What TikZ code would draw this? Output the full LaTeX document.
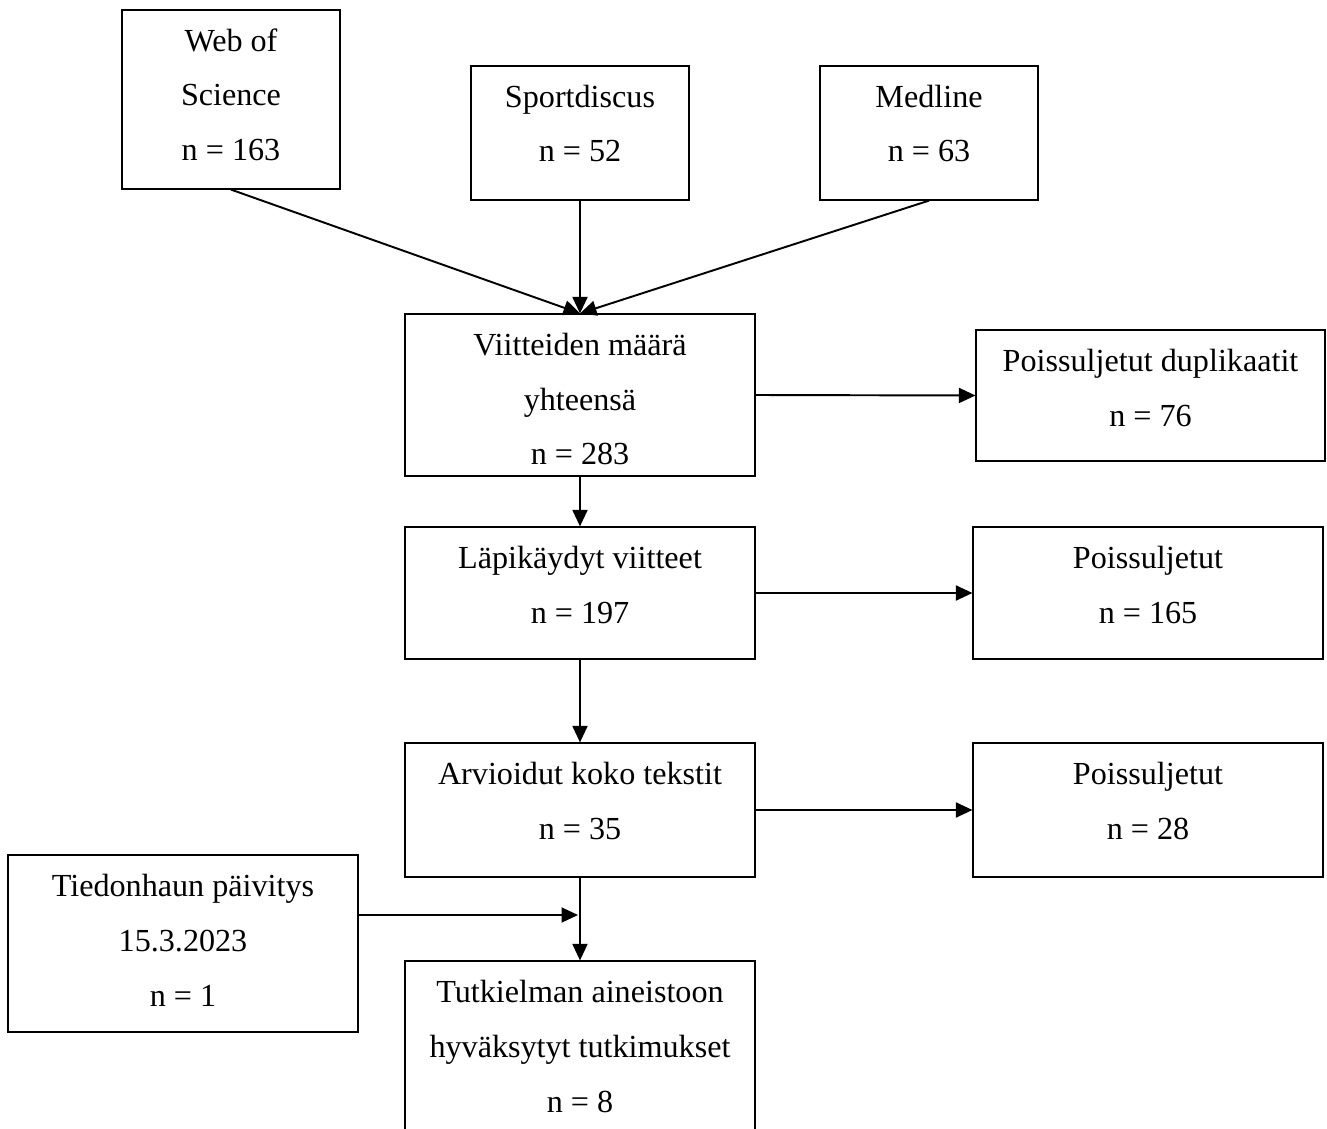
\documentclass[tikz,border=0pt]{standalone}
\usepackage{fontspec}
\setmainfont{Liberation Serif}
\usepackage{tikz}
\usetikzlibrary{arrows.meta, calc}
% box text: width, height, lines (top aligned)
\newcommand{\boxtxt}[3]{\parbox[c][#2][t]{#1}{\centering\rule{0pt}{0.82cm}#3}}

\begin{document}
\begin{tikzpicture}[x=0.02cm, y=-0.02cm,
  box/.style={draw, line width=0.7pt, inner sep=0pt, font=\fontsize{18.3}{31.3}\selectfont},
  arr/.style={-{Triangle[length=0.33cm, width=0.3cm]}, line width=1.1pt}]
  \useasboundingbox (0,0) rectangle (1327,1128);
  % sources
  \node[box] (wos) at (231,99.5) {\boxtxt{4.36cm}{3.58cm}{Web of\\Science\\n = 163}};
  \node[box] (sport) at (580,133) {\boxtxt{4.36cm}{2.68cm}{Sportdiscus\\n = 52}};
  \node[box] (medline) at (929,133) {\boxtxt{4.36cm}{2.68cm}{Medline\\n = 63}};
  % main column
  \node[box] (total) at (580,395) {\boxtxt{7cm}{3.24cm}{Viitteiden määrä\\yhteensä\\n = 283}};
  \node[box] (screened) at (580,593) {\boxtxt{7cm}{2.64cm}{Läpikäydyt viitteet\\n = 197}};
  \node[box] (fulltext) at (580,810) {\boxtxt{7cm}{2.68cm}{Arvioidut koko tekstit\\n = 35}};
  \node[box] (included) at (580,1056.5) {\boxtxt{7cm}{3.82cm}{Tutkielman aineistoon\\hyväksytyt tutkimukset\\n = 8}};
  % exclusions
  \node[box] (dupl) at (1150.5,395.5) {\boxtxt{6.98cm}{2.62cm}{Poissuljetut duplikaatit\\n = 76}};
  \node[box] (excla) at (1148,593) {\boxtxt{7cm}{2.64cm}{Poissuljetut\\n = 165}};
  \node[box] (exclb) at (1148,810) {\boxtxt{7cm}{2.68cm}{Poissuljetut\\n = 28}};
  % update
  \node[box] (update) at (183,943.5) {\boxtxt{7cm}{3.54cm}{Tiedonhaun päivitys\\15.3.2023\\n = 1}};
  \coordinate (join) at (578,915);

  \draw[arr] (wos.south) -- (total.north);
  \draw[arr] (sport.south) -- (total.north);
  \draw[arr] (medline.south) -- (total.north);
  \draw[arr] (total.east) -- (dupl.west);
  \draw[arr] (total.south) -- (screened.north);
  \draw[arr] (screened.east) -- (excla.west);
  \draw[arr] (screened.south) -- (fulltext.north);
  \draw[arr] (fulltext.east) -- (exclb.west);
  \draw[arr] (fulltext.south) -- (included.north);
  \draw[arr] (update.east |- join) -- (join);
\end{tikzpicture}
\end{document}
